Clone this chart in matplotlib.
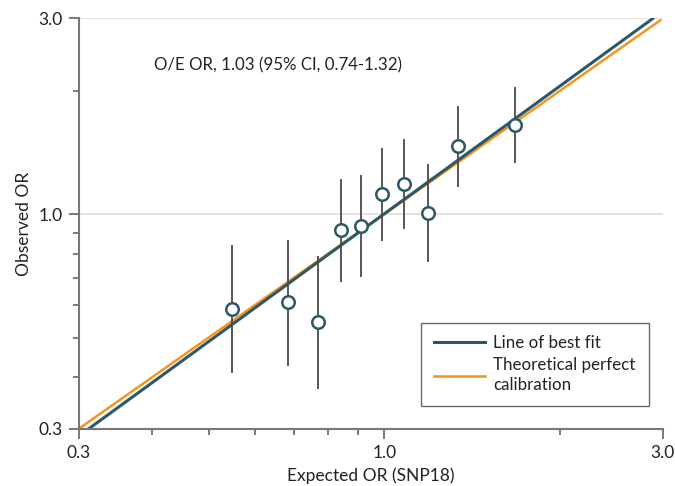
import matplotlib
matplotlib.use("Agg")
import matplotlib.pyplot as plt
from matplotlib.ticker import FixedLocator, NullFormatter
import numpy as np

plt.rcParams['font.family'] = ['Lato', 'DejaVu Sans']

# deciles: expected vs observed OR with 95% CI
expected = [0.549, 0.683, 0.769, 0.842, 0.913, 0.993, 1.082, 1.186, 1.340, 1.675]
observed = [0.586, 0.610, 0.545, 0.916, 0.937, 1.119, 1.186, 1.006, 1.468, 1.652]
ci_low = [0.409, 0.427, 0.374, 0.685, 0.704, 0.860, 0.920, 0.763, 1.163, 1.330]
ci_high = [0.841, 0.865, 0.791, 1.220, 1.245, 1.447, 1.525, 1.322, 1.834, 2.037]

# line of best fit (end points) and y = x reference
fit_x = [0.312, 2.884]
fit_y = [0.3, 3.0]
perfect_x = [0.3, 2.97]

major_ticks = [0.3, 1.0, 3.0]
minor_ticks = [0.4, 0.5, 0.6, 0.7, 0.8, 0.9, 2.0]

teal = "#2c5868"
orange = "#f7941d"

fig = plt.figure(figsize=(6.75, 4.86), dpi=100)
ax = fig.add_axes([0.117, 0.118, 0.865, 0.844])

ax.set_xscale("log")
ax.set_yscale("log")
ax.set_xlim(0.3, 3.0)
ax.set_ylim(0.3, 3.0)

for yv in major_ticks[1:]:
    ax.axhline(yv, color="#dddddd", lw=1.2, zorder=0)

ax.plot(fit_x, fit_y, color=teal, lw=2.2, zorder=2, label="Line of best fit")
ax.plot(perfect_x, perfect_x, color=orange, lw=1.8, zorder=1,
        label="Theoretical perfect\ncalibration")

yerr = [np.array(observed) - np.array(ci_low), np.array(ci_high) - np.array(observed)]
ax.errorbar(expected, observed, yerr=yerr, fmt="none", ecolor="#4a4a4a",
            elinewidth=1.3, capsize=0, zorder=3)
ax.plot(expected, observed, "o", ms=9, mfc="white", mec=teal, mew=1.8,
        linestyle="none", zorder=4)

for axis in (ax.xaxis, ax.yaxis):
    axis.set_major_locator(FixedLocator(major_ticks))
    axis.set_minor_locator(FixedLocator(minor_ticks))
    axis.set_minor_formatter(NullFormatter())
ax.set_xticklabels(["0.3", "1.0", "3.0"])
ax.set_yticklabels(["0.3", "1.0", "3.0"])

ax.tick_params(which="major", length=7.5, width=1.1, color="#555555",
               labelsize=12.5, labelcolor="#222222", pad=4)
ax.tick_params(which="minor", length=4.5, width=1.1, color="#555555")

for side in ("top", "right"):
    ax.spines[side].set_visible(False)
for side in ("left", "bottom"):
    ax.spines[side].set_color("#777777")
    ax.spines[side].set_linewidth(1.5)

ax.set_xlabel("Expected OR (SNP18)", fontsize=12.5, color="#222222", labelpad=5)
ax.set_ylabel("Observed OR", fontsize=12.5, color="#222222", labelpad=5)

ax.text(0.128, 0.885, "O/E OR, 1.03 (95% CI, 0.74-1.32)", transform=ax.transAxes,
        fontsize=12.2, color="#222222", va="center")

leg = ax.legend(loc="lower right", bbox_to_anchor=(0.99, 0.035), fontsize=12.2,
                frameon=True, fancybox=False, handlelength=3.0, borderpad=0.75,
                labelspacing=0.35, handletextpad=0.5)
leg.get_frame().set_edgecolor("#444444")
leg.get_frame().set_linewidth(1.0)
for t in leg.get_texts():
    t.set_color("#222222")
    t.set_linespacing(1.3)

fig.savefig("out.png", dpi=100)
